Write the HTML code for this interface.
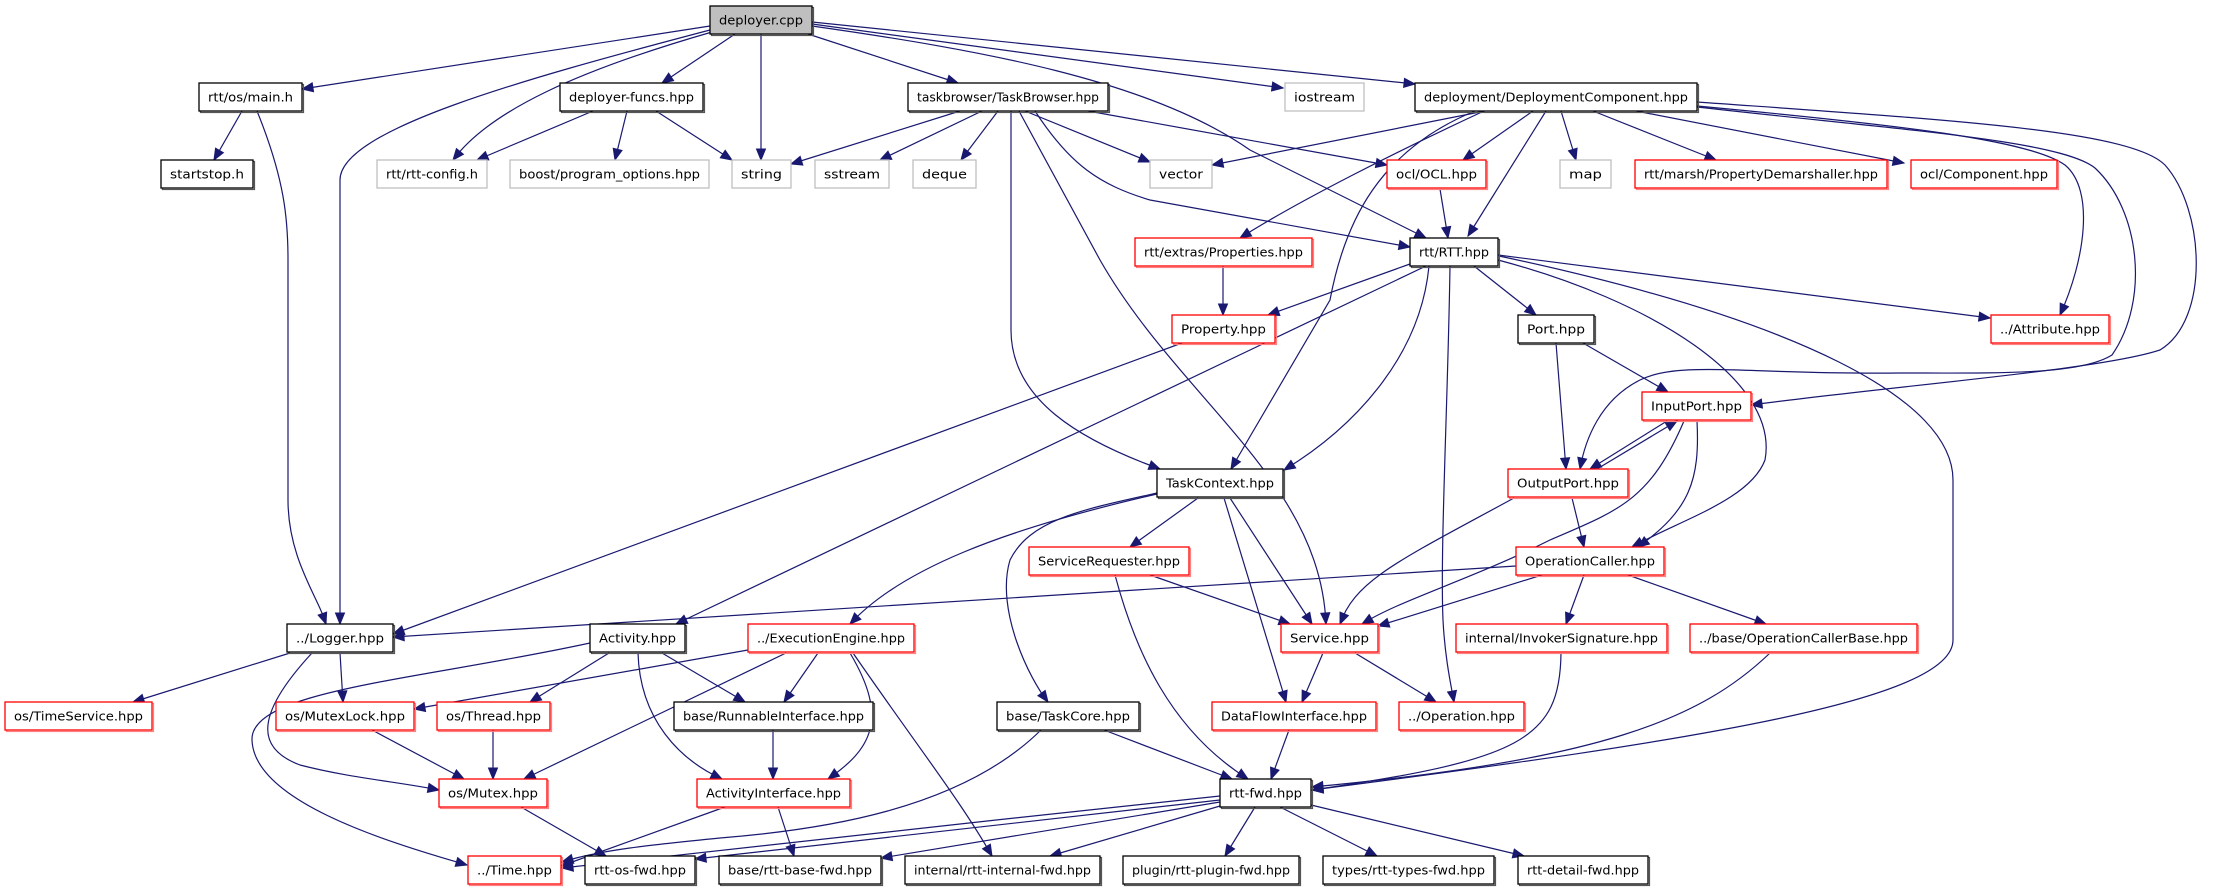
<!DOCTYPE html>
<html><head><meta charset="utf-8"><style>
html,body{margin:0;padding:0;background:#fff;}
svg{display:block;}
text{font-family:"DejaVu Sans","Liberation Sans",sans-serif;font-size:12px;fill:#000;}
</style></head><body>
<svg id="g" width="2213" height="891" viewBox="0 0 2213 891" xmlns="http://www.w3.org/2000/svg">
<g id="edges" fill="none" stroke="#191970" stroke-width="1.2"></g>
<g id="arrows" fill="#191970" stroke="#191970" stroke-width="1"></g>
<g id="nodes"></g>
</svg>
<script>
var R=[6,83,160,238,315,392,469,547,624,702,779,856],H=28;
var N=[
["deployer.cpp",710,812,0,"s"],
["rtt/os/main.h",199,302,1,"k"],["deployer-funcs.hpp",560,703,1,"k"],["taskbrowser/TaskBrowser.hpp",908,1108,1,"k"],
["iostream",1285,1364,1,"g"],["deployment/DeploymentComponent.hpp",1415,1697,1,"k"],
["startstop.h",161,253,2,"k"],["rtt/rtt-config.h",377,487,2,"g"],["boost/program_options.hpp",510,709,2,"g"],
["string",732,791,2,"g"],["sstream",815,889,2,"g"],["deque",913,976,2,"g"],["vector",1150,1212,2,"g"],
["ocl/OCL.hpp",1387,1486,2,"r"],["map",1560,1611,2,"g"],["rtt/marsh/PropertyDemarshaller.hpp",1635,1887,2,"r"],
["ocl/Component.hpp",1911,2057,2,"r"],
["rtt/extras/Properties.hpp",1135,1312,3,"r"],["rtt/RTT.hpp",1410,1498,3,"k"],
["Property.hpp",1172,1275,4,"r"],["Port.hpp",1518,1594,4,"k"],["../Attribute.hpp",1991,2109,4,"r"],
["InputPort.hpp",1642,1751,5,"r"],
["TaskContext.hpp",1157,1283,6,"k"],["OutputPort.hpp",1508,1628,6,"r"],
["ServiceRequester.hpp",1029,1189,7,"r"],["OperationCaller.hpp",1516,1664,7,"r"],
["../Logger.hpp",287,393,8,"k"],["Activity.hpp",590,685,8,"k"],["../ExecutionEngine.hpp",748,914,8,"r"],
["Service.hpp",1281,1378,8,"r"],["internal/InvokerSignature.hpp",1456,1667,8,"r"],["../base/OperationCallerBase.hpp",1690,1917,8,"r"],
["os/TimeService.hpp",5,152,9,"r"],["os/MutexLock.hpp",276,414,9,"r"],["os/Thread.hpp",437,550,9,"r"],
["base/RunnableInterface.hpp",674,873,9,"k"],["base/TaskCore.hpp",997,1139,9,"k"],
["DataFlowInterface.hpp",1212,1376,9,"r"],["../Operation.hpp",1399,1524,9,"r"],
["os/Mutex.hpp",439,547,10,"r"],["ActivityInterface.hpp",697,850,10,"r"],["rtt-fwd.hpp",1220,1311,10,"k"],
["../Time.hpp",468,561,11,"r"],["rtt-os-fwd.hpp",585,695,11,"k"],["base/rtt-base-fwd.hpp",719,881,11,"k"],
["internal/rtt-internal-fwd.hpp",905,1100,11,"k"],["plugin/rtt-plugin-fwd.hpp",1123,1299,11,"k"],
["types/rtt-types-fwd.hpp",1323,1494,11,"k"],["rtt-detail-fwd.hpp",1518,1648,11,"k"]
];
var E=[
"M710 26 L302 89",
"M710 30 C520 80 340 130 340 180 L340 624",
"M257 111 C285 180 288 220 288 260 L288 500 C288 560 320 600 326 624",
"M242 111 L214 160",
"M712 32 C580 70 490 110 453 160",
"M593 111 L477 160",
"M627 111 L615 160",
"M656 111 L732 160",
"M735 34 L662 83",
"M761 34 L761 160",
"M808 34 L958 83",
"M812 24 L1283 88",
"M812 22 L1415 84",
"M812 26 C980 50 1150 80 1250 150 L1426 238",
"M960 111 L791 164",
"M982 111 L880 160",
"M998 111 L961 160",
"M1025 111 L1150 162",
"M1088 111 L1387 165",
"M1035 111 C1070 165 1100 185 1150 200 L1410 247",
"M1011 111 L1011 330 C1011 400 1080 440 1160 469",
"M1019 111 L1100 260 C1180 400 1320 480 1326 624",
"M1485 111 L1212 165",
"M1533 111 L1463 160",
"M1561 111 L1576 160",
"M1593 111 L1716 160",
"M1636 111 L1904 163",
"M1484 111 C1400 150 1300 200 1240 238",
"M1546 111 L1468 236",
"M1475 111 C1380 150 1345 220 1330 300 L1231 469",
"M1697 106 C1900 125 2030 140 2065 165 C2095 190 2085 260 2060 315",
"M1697 102 C1950 120 2130 130 2165 165 C2205 210 2210 320 2160 350 C2100 370 1900 385 1751 405",
"M1697 107 C1900 130 2060 140 2095 168 C2140 210 2150 300 2112 355 C2080 375 2000 373 1900 373 C1750 375 1680 360 1640 380 C1600 400 1585 440 1580 469",
"M1440 189 L1448 238",
"M1223 266 L1223 315",
"M1410 264 L1268 315",
"M1474 266 L1536 315",
"M1498 255 L1990 318",
"M1429 266 C1420 360 1350 430 1284 470",
"M1426 266 L676 624",
"M1450 266 C1448 400 1440 550 1443 620 C1445 660 1452 690 1454 702",
"M1498 260 C1650 300 1780 380 1765 460 C1750 500 1680 520 1632 547",
"M1499 256 C1800 320 1953 400 1953 480 L1953 640 C1953 700 1700 740 1312 790",
"M1182 343 L393 634",
"M1583 343 L1668 392",
"M1556 343 L1566 469",
"M1667 421 L1590 469",
"M1597 469 L1677 421",
"M1697 421 C1700 480 1690 510 1638 547",
"M1684 421 C1650 500 1620 510 1550 540 C1470 580 1400 600 1362 624",
"M1572 498 L1584 547",
"M1514 498 C1400 560 1355 580 1340 624",
"M1198 498 L1130 547",
"M1157 494 C1000 530 900 570 850 624",
"M1157 493 C1080 510 1030 520 1010 560 C995 610 1030 680 1048 702",
"M1230 498 L1312 624",
"M1224 498 L1286 702",
"M1150 575 L1290 624",
"M1115 575 C1135 650 1170 730 1248 779",
"M1516 566 L393 637",
"M1542 575 L1378 626",
"M1584 575 L1566 624",
"M1628 575 L1766 624",
"M1323 653 L1302 702",
"M1355 653 L1436 702",
"M1561 653 C1560 740 1520 760 1312 790",
"M1770 653 C1700 720 1600 760 1312 787",
"M1289 730 L1271 779",
"M1104 730 L1232 779",
"M1041 730 C960 810 820 830 720 838 C650 845 600 850 562 862",
"M290 653 L133 702",
"M340 653 L343 702",
"M312 653 C250 720 260 750 300 765 C350 778 400 782 439 790",
"M590 643 C420 680 250 690 252 740 C254 800 380 840 467 865",
"M609 653 L530 702",
"M662 653 L745 702",
"M638 653 C640 720 680 760 722 779",
"M748 650 L414 709",
"M786 653 L524 779",
"M818 653 L784 702",
"M850 653 C890 720 870 750 828 779",
"M853 653 C920 750 960 800 992 856",
"M372 730 L464 779",
"M493 730 L493 779",
"M773 730 L773 779",
"M521 807 L606 856",
"M725 807 L561 866",
"M778 807 L794 856",
"M1220 796 C1000 820 800 840 562 868",
"M1220 800 L695 859",
"M1220 802 L881 858",
"M1220 806 L1050 856",
"M1255 807 L1225 856",
"M1280 807 L1377 856",
"M1311 805 L1524 856"
];
var NS="http://www.w3.org/2000/svg";
function el(t,a,p){var e=document.createElementNS(NS,t);for(var k in a)e.setAttribute(k,a[k]);p.appendChild(e);return e;}
var ge=document.getElementById("edges"),ga=document.getElementById("arrows"),gn=document.getElementById("nodes");
E.forEach(function(d){
  var p=el("path",{d:d},ge);var L=p.getTotalLength();
  var t=p.getPointAtLength(L),b=p.getPointAtLength(Math.max(0,L-11));
  var dx=t.x-b.x,dy=t.y-b.y,l=Math.hypot(dx,dy)||1;dx/=l;dy/=l;
  var bx=t.x-dx*11,by=t.y-dy*11,w=4.5;
  el("polygon",{points:t.x+","+t.y+" "+(bx-dy*w)+","+(by+dx*w)+" "+(bx+dy*w)+","+(by-dx*w)},ga);
});
N.forEach(function(n){
  var x=n[1],w=n[2]-n[1],y=R[n[3]],t=n[4];
  var st=t=="r"?"#ff0000":t=="g"?"#bfbfbf":"#000";
  if(t!="g") el("rect",{x:x+1.5,y:y+1.5,width:w,height:H,fill:"none",stroke:t=="r"?"#ff8080":"#555",'stroke-width':1.2},gn);
  el("rect",{x:x,y:y,width:w,height:H,fill:t=="s"?"#bfbfbf":"#fff",stroke:st,'stroke-width':1.3},gn);
  var tx=el("text",{x:x+w/2,y:y+H/2+4.5,'text-anchor':"middle",textLength:w-18,lengthAdjust:"spacingAndGlyphs"},gn);
  tx.textContent=n[0];
});
</script>
</body></html>
